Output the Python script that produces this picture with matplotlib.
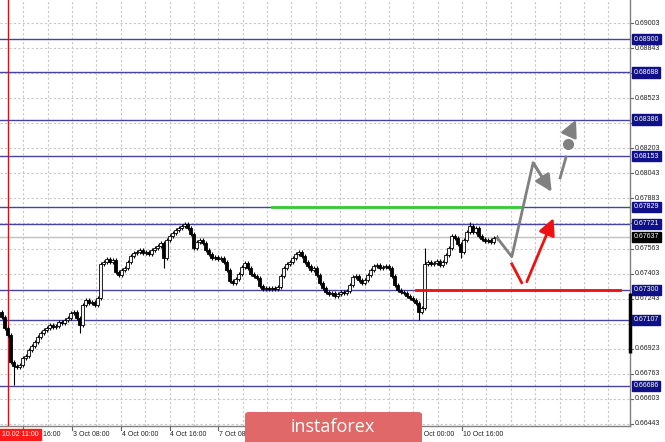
import matplotlib
matplotlib.use("Agg")
import matplotlib.pyplot as plt
import matplotlib.transforms as mtrans
from matplotlib.patches import FancyBboxPatch, Rectangle
import numpy as np

# ---------------- data ----------------
closes = [
    0.67126, 0.67056, 0.67011, 0.66838, 0.66813, 0.66806, 0.66819, 0.66864, 0.66877, 0.66915,
    0.66941, 0.66966, 0.66998, 0.67024, 0.67043, 0.67056, 0.67075, 0.67062, 0.67068, 0.67094,
    0.67088, 0.67107, 0.67119, 0.67151, 0.67158, 0.67119, 0.67075, 0.67203, 0.67235, 0.67215,
    0.67222, 0.67203, 0.67247, 0.67465, 0.67477, 0.67496, 0.67477, 0.67490, 0.67413, 0.67394,
    0.67426, 0.67439, 0.67477, 0.67516, 0.67535, 0.67541, 0.67554, 0.67535, 0.67541, 0.67528,
    0.67554, 0.67567, 0.67580, 0.67599, 0.67503, 0.67618, 0.67643, 0.67663, 0.67682, 0.67695,
    0.67707, 0.67720, 0.67695, 0.67656, 0.67567, 0.67605, 0.67618, 0.67599, 0.67554, 0.67528,
    0.67503, 0.67509, 0.67496, 0.67503, 0.67477, 0.67426, 0.67356, 0.67343, 0.67369, 0.67401,
    0.67445, 0.67471, 0.67439, 0.67401, 0.67388, 0.67375, 0.67324, 0.67305, 0.67311, 0.67305,
    0.67311, 0.67305, 0.67318, 0.67388, 0.67439, 0.67465, 0.67477, 0.67503, 0.67528, 0.67541,
    0.67516, 0.67477, 0.67452, 0.67426, 0.67439, 0.67394, 0.67343, 0.67311, 0.67286, 0.67273,
    0.67279, 0.67260, 0.67273, 0.67286, 0.67279, 0.67292, 0.67330, 0.67381, 0.67388, 0.67362,
    0.67343, 0.67362, 0.67394, 0.67426, 0.67452, 0.67458, 0.67439, 0.67445, 0.67452, 0.67439,
    0.67388, 0.67330, 0.67298, 0.67286, 0.67279, 0.67260, 0.67247, 0.67235, 0.67215, 0.67158,
    0.67183, 0.67465, 0.67477, 0.67465, 0.67471, 0.67484, 0.67458, 0.67477, 0.67522, 0.67567,
    0.67643, 0.67631, 0.67592, 0.67541, 0.67618, 0.67669, 0.67707, 0.67669, 0.67695, 0.67643,
    0.67624, 0.67611, 0.67618, 0.67605, 0.67631, 0.67637,
]
first_open = 0.67160
# notable wick extremes: bar index -> (high, low)
wick_extremes = {
    4: (None, 0.66691), 26: (None, 0.67024), 54: (None, 0.67439), 61: (0.67733, None),
    139: (None, 0.67107), 141: (0.67567, None), 153: (None, 0.67503), 156: (0.67733, None),
}

levels = [0.68900, 0.68688, 0.68386, 0.68153, 0.67829, 0.67721, 0.67300, 0.67107, 0.66686]
current_price = 0.67637
price_ticks = [0.69003, 0.68843, 0.68683, 0.68523, 0.68363, 0.68203, 0.68043, 0.67883, 0.67723,
               0.67563, 0.67403, 0.67243, 0.67083, 0.66923, 0.66763, 0.66603, 0.66443]
time_labels = ['2 Oct 16:00', '3 Oct 08:00', '4 Oct 00:00', '4 Oct 16:00', '7 Oct 08:00',
               '8 Oct 00:00', '8 Oct 16:00', '9 Oct 08:00', '10 Oct 00:00', '10 Oct 16:00']
green_level = (0.67829, 90.2, 172.8)     # price, from bar, to bar
red_level = (0.67300, 138.2, 206.2)
vline_bar = 2.2
vline_label = '10.02 11:00'

gray_path_x = [165, 170.1, 177.2, 183.4]
gray_path_y = [0.67637, 0.67511, 0.68110, 0.67926]
gray_seg_x = [186.2, 188.2]
gray_seg_y = [0.68014, 0.68148]
gray_dot = (188.7, 0.68229)
gray_arrow2 = ((189.2, 0.68288), (191.5, 0.68385))
red_seg_x = [170.1, 173.4]
red_seg_y = [0.67465, 0.67345]
red_arrow = ((175.1, 0.67351), (184.0, 0.67757))
range_mark = (0.67279, 0.66896)

# ---------------- figure ----------------
W, H = 665, 442
fig = plt.figure(figsize=(W / 100, H / 100), dpi=100)
fig.patch.set_facecolor('white')
ax = fig.add_axes([0, 16 / H, 630 / W, 426 / H])
ax.set_xlim(-0.5, 209.5)
ax.set_ylim(0.66430, 0.69150)
for s in ['top', 'left']:
    ax.spines[s].set_visible(False)
for s in ['right', 'bottom']:
    ax.spines[s].set_color('#808080')
    ax.spines[s].set_linewidth(1)
ax.set_xticks([])
ax.set_yticks([])

FONT = 'Liberation Sans'
px_per_bar = 3.0
# grid
grid_x = [(23.3 + 24.375 * k - 1.5) / px_per_bar for k in range(26)]
for gx in grid_x:
    ax.axvline(gx, color='#c8c8c8', lw=0.8, ls=(0, (2, 2)), zorder=0)
for py in price_ticks:
    ax.axhline(py, color='#c8c8c8', lw=0.8, ls=(0, (2, 2)), zorder=0)

# levels
for lv in levels:
    ax.axhline(lv, color='#4444a4', lw=1.0, zorder=1)
ax.axhline(current_price, color='#c0c0c0', lw=1.0, zorder=1)

# red vertical line
ax.axvline(vline_bar, color='#ff0000', lw=1.0, zorder=2)

# candles
opens = [first_open] + closes[:-1]
for i, (o, c) in enumerate(zip(opens, closes)):
    hi = max(o, c) + 0.00012
    lo = min(o, c) - 0.00012
    if i in wick_extremes:
        h2, l2 = wick_extremes[i]
        if h2 is not None:
            hi = max(hi, h2)
        if l2 is not None:
            lo = min(lo, l2)
    ax.vlines(i, lo, hi, color='black', lw=0.8, zorder=3)
    bottom = min(o, c)
    height = max(abs(c - o), 0.00004)
    face = 'black' if c < o else '#f4f4f4'
    ax.add_patch(Rectangle((i - 0.38, bottom), 0.76, height, facecolor=face,
                           edgecolor='black', lw=0.6, zorder=4))

# green & red horizontal segments
ax.plot([green_level[1], green_level[2]], [green_level[0]] * 2, color='#33cc33', lw=2, zorder=5)
ax.plot([red_level[1], red_level[2]], [red_level[0]] * 2, color='#ee1111', lw=2, zorder=5)

# forecast drawings
gray = '#808080'
ax.plot(gray_path_x[:-1] + [gray_path_x[-1] - 0.6], gray_path_y[:-1] + [gray_path_y[-1] + 0.00012],
        color=gray, lw=2, zorder=6, solid_capstyle='butt')
ax.annotate('', xy=(gray_path_x[-1], gray_path_y[-1]), xytext=(gray_path_x[-2], gray_path_y[-2]),
            arrowprops=dict(arrowstyle='-|>,head_length=1.0,head_width=0.5', color=gray, lw=2,
                            shrinkA=0, shrinkB=0), zorder=6)
ax.plot(gray_seg_x, gray_seg_y, color=gray, lw=2, zorder=6)
ax.plot([gray_dot[0]], [gray_dot[1]], 'o', color=gray, ms=7, zorder=6)
ax.annotate('', xy=gray_arrow2[1], xytext=gray_arrow2[0],
            arrowprops=dict(arrowstyle='-|>,head_length=1.0,head_width=0.5', color=gray, lw=2,
                            shrinkA=0, shrinkB=0), zorder=6)
ax.plot(red_seg_x, red_seg_y, color='#ee1111', lw=2, zorder=6)
ax.annotate('', xy=red_arrow[1], xytext=red_arrow[0],
            arrowprops=dict(arrowstyle='-|>,head_length=1.0,head_width=0.5', color='#ee1111', lw=2,
                            shrinkA=0, shrinkB=0), zorder=6)

# range mark on right spine
ax.plot([209.5, 209.5], list(range_mark), color='black', lw=2.5, zorder=7, clip_on=False,
        solid_capstyle='butt')

# right axis labels
tr = mtrans.blended_transform_factory(fig.transFigure, ax.transData)
for py in price_ticks:
    ax.plot([630 / W, 633 / W], [py, py], transform=tr, color='#606060', lw=0.8, clip_on=False)
    ax.text(634.5 / W, py, f'{py:.5f}', transform=tr, fontsize=5, family=FONT,
            color='#202020', va='center', ha='left', clip_on=False)
for lv in levels:
    ax.text(633.5 / W, lv, f'{lv:.5f}', transform=tr, fontsize=5, family=FONT,
            color='white', va='center', ha='left', clip_on=False, zorder=10,
            bbox=dict(boxstyle='square,pad=0.25', facecolor='#10108a', edgecolor='#10108a'))
ax.text(633.5 / W, current_price, f'{current_price:.5f}', transform=tr, fontsize=5, family=FONT,
        color='white', va='center', ha='left', clip_on=False, zorder=10,
        bbox=dict(boxstyle='square,pad=0.25', facecolor='black', edgecolor='black'))

# bottom axis labels
trx = mtrans.blended_transform_factory(ax.transData, fig.transFigure)
for k, lab in enumerate(time_labels):
    xb = (23.3 + 48.75 * k - 1.5) / px_per_bar
    ax.plot([xb, xb], [16 / H, 12 / H], transform=trx, color='#606060', lw=0.8, clip_on=False)
    ax.text(xb + 0.3, 7.5 / H, lab, transform=trx, fontsize=5, family=FONT, color='#202020',
            va='center', ha='left', clip_on=False)

# red vertical-line time label
fig.text(1.5 / W, 7.5 / H, vline_label, fontsize=5, family=FONT, color='white', va='center',
         ha='left', zorder=20,
         bbox=dict(boxstyle='square,pad=0.35', facecolor='#ff1a1a', edgecolor='#ff1a1a'))

# watermark
wm = FancyBboxPatch((245 / W, -10 / H), 177 / W, 40 / H, boxstyle='round,pad=0,rounding_size=0.006',
                    transform=fig.transFigure, facecolor='#e06868', edgecolor='none', zorder=30)
fig.patches.append(wm)
fig.text(333 / W, 15 / H, 'instaforex', fontsize=13, family='Open Sans', color='white',
         ha='center', va='center', zorder=31)

fig.savefig('out.png', dpi=100, facecolor='white')
